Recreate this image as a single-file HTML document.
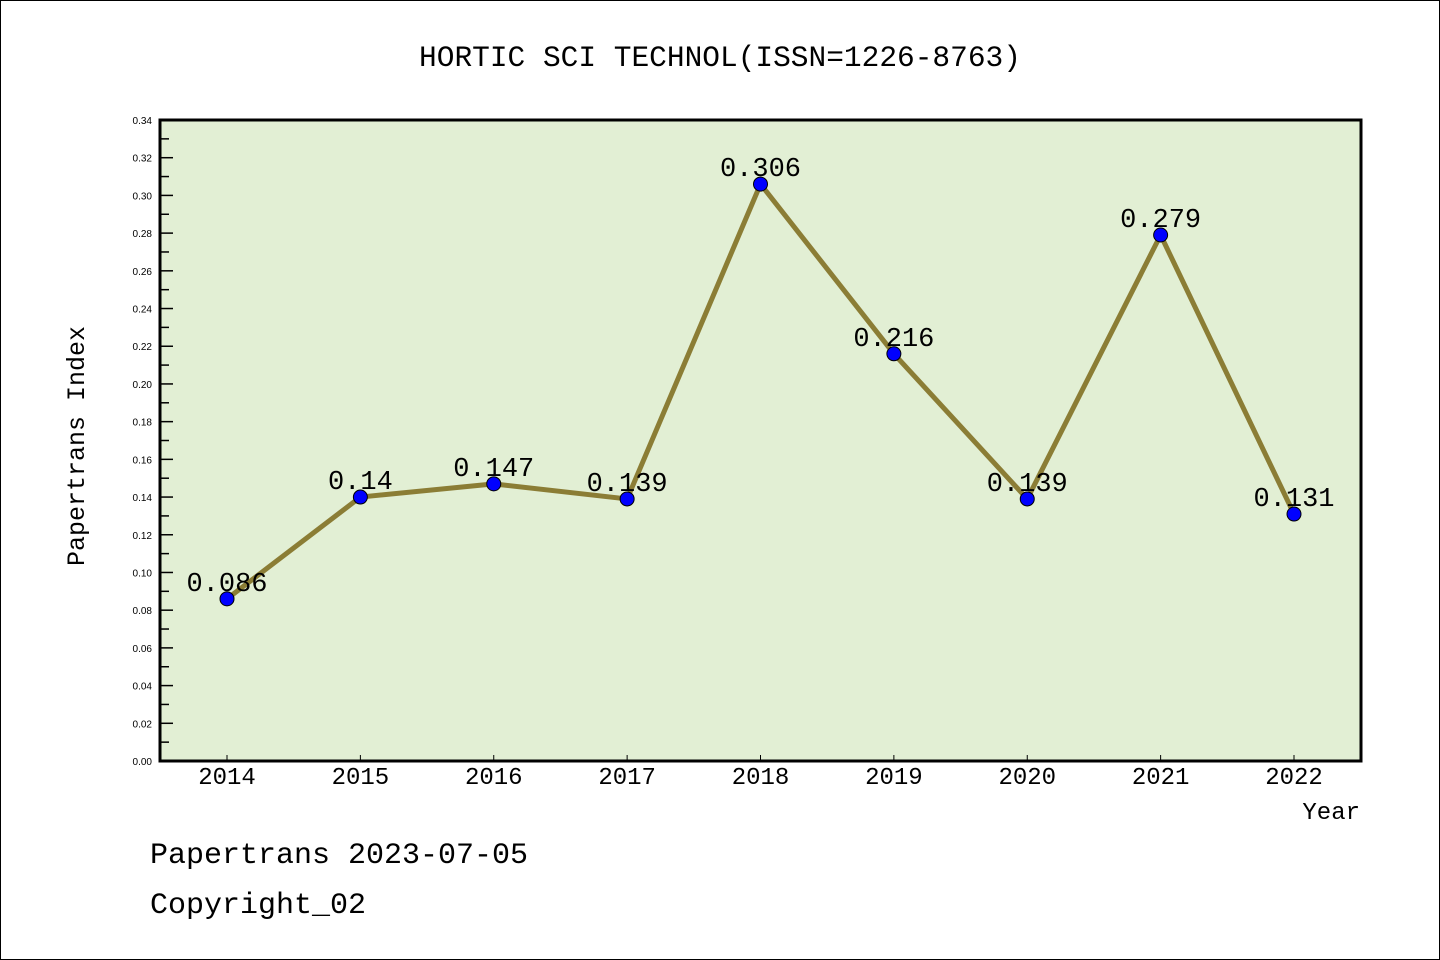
<!DOCTYPE html>
<html><head><meta charset="utf-8"><style>
html,body{margin:0;padding:0;background:#fff}
svg{display:block}
text{font-family:"Liberation Mono",monospace}
text.sans{font-family:"Liberation Sans",sans-serif}
</style></head><body>
<svg id="chart" width="1440" height="960">
<rect x="0.5" y="0.5" width="1439" height="959" fill="#fff" stroke="#000"/>
<text x="720" y="66" text-anchor="middle" font-size="29.5">HORTIC SCI TECHNOL(ISSN=1226-8763)</text>
<rect x="160" y="120" width="1201" height="641" fill="#e2efd4"/>
<g id="yticks"></g><g id="xticks"></g><g id="series"></g>
<rect x="160" y="120" width="1201" height="641" fill="none" stroke="#000" stroke-width="3"/>
<text transform="translate(84,446) rotate(-90)" text-anchor="middle" font-size="25">Papertrans Index</text>
<text x="1360" y="819" text-anchor="end" font-size="24">Year</text>
<text x="150" y="863" font-size="30">Papertrans 2023-07-05</text>
<text x="150" y="913" font-size="30">Copyright_02</text>
</svg>
<script>
const years=["2014","2015","2016","2017","2018","2019","2020","2021","2022"];
const values=[0.086,0.14,0.147,0.139,0.306,0.216,0.139,0.279,0.131];
const valueLabels=["0.086","0.14","0.147","0.139","0.306","0.216","0.139","0.279","0.131"];
const yTicks=[0,0.02,0.04,0.06,0.08,0.10,0.12,0.14,0.16,0.18,0.20,0.22,0.24,0.26,0.28,0.30,0.32,0.34];
const NS="http://www.w3.org/2000/svg";
const yMin=0,yMax=0.34,yTop=120,yBot=761;
function yScale(v){return yBot-(v-yMin)/(yMax-yMin)*(yBot-yTop);}
function xScale(i){return 227+i*(1294-227)/(years.length-1);}
function mk(tag,attrs,parent){const e=document.createElementNS(NS,tag);for(const k in attrs)e.setAttribute(k,attrs[k]);parent.appendChild(e);return e;}
const yg=document.getElementById('yticks');
yTicks.forEach((t,i)=>{
  const y=yScale(t);
  const l=mk('line',{x1:160,x2:173,y1:y,y2:y,stroke:'#000','stroke-width':1.5},yg);
  
  
  const tx=mk('text',{x:152,y:y+4,'text-anchor':'end','font-size':10,'class':'sans'},yg);
  tx.textContent=t.toFixed(2);
  
  
  if(i<yTicks.length-1){
    const ym=yScale(t+0.01);
    const m=mk('line',{x1:160,x2:169,y1:ym,y2:ym,stroke:'#000','stroke-width':1.5},yg);
    
    
  }
});
const xg=document.getElementById('xticks');
years.forEach((yr,i)=>{
  const x=xScale(i);
  const l=mk('line',{x1:x,x2:x,y1:755,y2:761,stroke:'#000','stroke-width':1},xg);
  
  
  const t=mk('text',{x:x,y:784,'text-anchor':'middle','font-size':24},xg);
  t.textContent=yr;
  
  
});
const sg=document.getElementById('series');
const pts=values.map((v,i)=>xScale(i)+','+yScale(v)).join(' ');
const pl=mk('polyline',{points:pts,fill:'none',stroke:'#8b7d35','stroke-width':5,'stroke-linejoin':'round'},sg);


values.forEach((v,i)=>{
  const c=mk('circle',{cx:xScale(i),cy:yScale(v),r:7,fill:'#0000ff',stroke:'#000','stroke-width':1},sg);
  
  
});
values.forEach((v,i)=>{
  const t=mk('text',{x:xScale(i),y:yScale(v)-8,'text-anchor':'middle','font-size':27},sg);
  t.textContent=valueLabels[i];
  
  
});
</script>
</body></html>
